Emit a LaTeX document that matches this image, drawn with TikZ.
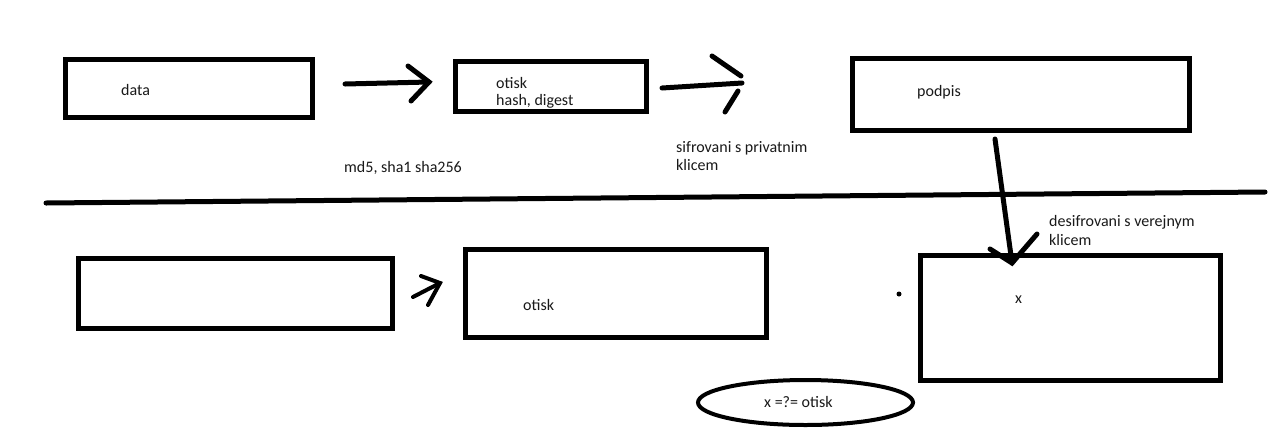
\documentclass[tikz,border=0pt]{standalone}
\usepackage{fontspec}
\setmainfont{Carlito}
\usetikzlibrary{shapes.geometric}
\begin{document}
\begin{tikzpicture}[x=1pt,y=-1pt,
  box/.style={draw=black,line width=5pt,inner sep=0pt,minimum width=#1},
  lbl/.style={anchor=base west,inner sep=0pt,font=\fontsize{16}{19}\selectfont,text=black!90},
  pen/.style={line width=5pt,line cap=round},
  thinpen/.style={line width=4pt,line cap=round}]
\useasboundingbox[fill=white] (0,0) rectangle (1274,432);
% labels (drawn first: the box borders lie over them)
\node[lbl] (tdata) at (121,95) {data};
\node[lbl] (totisk) at (496,88) {otisk};
\node[lbl] (thash) at (496,105) {hash, digest};
\node[lbl] (tmd) at (344,172) {md5, sha1 sha256};
\node[lbl] (tpodpis) at (917,96) {podpis};
\node[lbl] (tsif1) at (676,152) {sifrovani s privatnim};
\node[lbl] (tsif2) at (676,170) {klicem};
\node[lbl] (tdes1) at (1049,226) {desifrovani s verejnym};
\node[lbl] (tdes2) at (1049,245) {klicem};
\node[lbl] (tx) at (1015,303) {x};
\node[lbl] (totisk2) at (523,310) {otisk};
\node[lbl] (tcmp) at (764,407) {x =?= otisk};
% boxes
\node[box=247pt,minimum height=58pt] (data) at (188.5,88.5) {};
\node[box=191pt,minimum height=50pt] (otisk1) at (551,86.5) {};
\node[box=337pt,minimum height=72pt] (podpis) at (1021,94.5) {};
\node[box=314pt,minimum height=70pt] (blank) at (235.5,293.5) {};
\node[box=301pt,minimum height=88pt] (otisk2) at (616,293.5) {};
\node[box=300pt,minimum height=125pt] (xbox) at (1070.5,318) {};
\node[draw=black,line width=4pt,ellipse,inner sep=0pt,minimum width=215pt,minimum height=45pt] (cmp) at (805.5,402.5) {};
% divider
\coordinate (divL) at (46,203);
\coordinate (divR) at (1265,192);
\draw[pen] (divL) -- (divR);
% arrow 1
\coordinate (a1s) at (345,84);
\coordinate (a1t) at (429,82);
\coordinate (a1u) at (408,66);
\coordinate (a1d) at (411,101);
\draw[pen] (a1s) -- (a1t);
\draw[pen] (a1u) -- (a1t) -- (a1d);
% arrow 2
\coordinate (a2s) at (662,88);
\coordinate (a2t) at (742,83);
\coordinate (a2u) at (712,56);
\coordinate (a2ue) at (741,76);
\coordinate (a2ds) at (738,91);
\coordinate (a2d) at (725,112);
\draw[pen] (a2s) -- (a2t);
\draw[pen] (a2u) -- (a2ue);
\draw[pen] (a2ds) -- (a2d);
% vertical arrow
\coordinate (a3s) at (995,139);
\coordinate (a3t) at (1012,263);
\coordinate (a3l) at (990,249);
\coordinate (a3r) at (1037,234);
\draw[pen] (a3s) -- (a3t);
\draw[pen] (a3l) -- (a3t) -- (a3r);
% small arrow
\coordinate (a4s) at (413,297);
\coordinate (a4t) at (440,283);
\coordinate (a4u) at (421,276);
\coordinate (a4d) at (428,305);
\draw[thinpen] (a4s) -- (a4t);
\draw[thinpen] (a4u) -- (a4t) -- (a4d);
% dot
\fill[black] (899,294) circle (2.5pt);
\end{tikzpicture}
\end{document}
